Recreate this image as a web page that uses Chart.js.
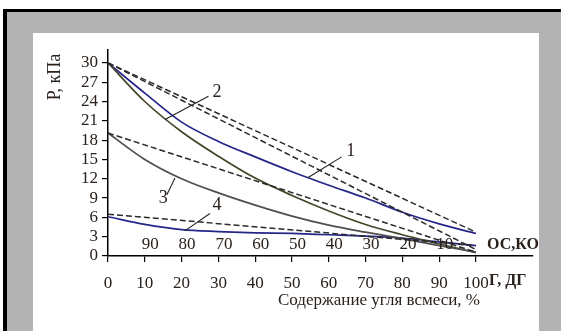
<!DOCTYPE html>
<html>
<head>
<meta charset="utf-8">
<script src="https://cdn.jsdelivr.net/npm/chart.js@4.4.1/dist/chart.umd.min.js"></script>
<style>
  html, body { margin: 0; padding: 0; background: #fff; }
  #frame { position: absolute; left: 3px; top: 9px; width: 558px; height: 322px; box-sizing: border-box;
           border-top: 3px solid #000; border-left: 4px solid #000; background: #b3b3b3; }
  #panel { position: absolute; left: 33px; top: 33px; width: 506px; height: 298px; background: #fff; }
  #wrap { position: absolute; left: 0; top: 0; width: 561px; height: 331px; }
</style>
</head>
<body>
<div id="frame"></div>
<div id="panel"></div>
<div id="wrap"><canvas id="c" width="561" height="331"></canvas></div>
<script>
// Coal content in the blend, %
const coalContent = [0, 10, 20, 30, 40, 50, 60, 70, 80, 90, 100];

// Measured pressure, kPa
const curve1 = [30, 25.3, 20.8, 17.8, 15.4, 13.1, 11.0, 9.0, 6.8, 5.0, 3.5];
const curve2 = [30, 24.0, 19.3, 15.5, 12.1, 9.4, 7.0, 4.9, 3.3, 1.9, 0.5];
const curve3 = [19.1, 15.0, 12.0, 9.8, 7.9, 6.2, 4.8, 3.7, 2.7, 1.6, 0.6];
const curve4 = [6.1, 4.9, 4.1, 3.8, 3.6, 3.5, 3.3, 3.1, 2.8, 2.2, 1.6];

// Additive (straight-line) values between the pure components, at 0 and 100 %
const additiveEnds = [0, 100];
const additive1 = [30, 3.7];
const additive2 = [30, 1.0];
const additive3 = [19.1, 0.6];
const additive4 = [6.5, 1.6];

// Axis ticks
const yTickValues = [0, 3, 6, 9, 12, 15, 18, 21, 24, 27, 30];
const xTickValues = [0, 10, 20, 30, 40, 50, 60, 70, 80, 90, 100];
// Second component share (ОС, КО), reversed along the axis
const secondShare = [90, 80, 70, 60, 50, 40, 30, 20, 10];

// Curve numbers: label position and leader line (curve point -> label)
const curveNames = ['1', '2', '3', '4'];
const namePos = [[66.0, 16.3], [29.6, 25.4], [15.0, 9.0], [29.6, 7.9]];
const leaderFrom = [[54.4, 12.2], [15.5, 21.2], [18.2, 12.1], [20.9, 3.9]];
const leaderTo = [[63.5, 15.4], [27.3, 24.8], [16.0, 9.5], [27.7, 6.6]];

const TEXT = '#2a211c';
const SERIF = '"Liberation Serif", "Times New Roman", serif';

function pts(xs, ys) { return xs.map((x, i) => ({ x: x, y: ys[i] })); }

const solid = (data, color) => ({
  data: data, borderColor: color, borderWidth: 1.7, pointRadius: 0,
  cubicInterpolationMode: 'monotone', fill: false
});
const dashed = (data) => ({
  data: data, borderColor: '#2a2a2a', borderWidth: 1.5, borderDash: [6, 3],
  pointRadius: 0, fill: false, tension: 0
});

const annotations = {
  id: 'annotations',
  afterDatasetsDraw(chart) {
    const ctx = chart.ctx, xs = chart.scales.x, ys = chart.scales.y;
    const X = v => xs.getPixelForValue(v), Y = v => ys.getPixelForValue(v);
    ctx.save();
    // leader lines
    ctx.strokeStyle = '#222';
    ctx.lineWidth = 1.1;
    leaderFrom.forEach((p, i) => {
      ctx.beginPath();
      ctx.moveTo(X(p[0]), Y(p[1]));
      ctx.lineTo(X(leaderTo[i][0]), Y(leaderTo[i][1]));
      ctx.stroke();
    });
    ctx.fillStyle = TEXT;
    ctx.textAlign = 'center';
    ctx.textBaseline = 'middle';
    ctx.font = '18px ' + SERIF;
    curveNames.forEach((t, i) => ctx.fillText(t, X(namePos[i][0]), Y(namePos[i][1])));

    // reversed share of the second component
    ctx.font = '17px ' + SERIF;
    secondShare.forEach(v => ctx.fillText(String(v), X(100 - v + 1.5), Y(1.8)));

    ctx.font = 'bold 16px ' + SERIF;
    ctx.textAlign = 'left';
    ctx.fillText('ОС,КО', X(103), Y(1.7));
    ctx.fillText('Г, ДГ', X(100) + 13, chart.chartArea.bottom + 25);

    ctx.font = '17px ' + SERIF;
    ctx.textAlign = 'right';
    ctx.fillText('Содержание угля всмеси, %', X(100) + 4, chart.chartArea.bottom + 45);

    ctx.translate(55, 77);
    ctx.rotate(-Math.PI / 2);
    ctx.textAlign = 'center';
    ctx.font = '18px ' + SERIF;
    ctx.fillText('Р, кПа', 0, 0);
    ctx.restore();
  }
};

new Chart(document.getElementById('c'), {
  type: 'line',
  data: {
    datasets: [
      dashed(pts(additiveEnds, additive1)),
      dashed(pts(additiveEnds, additive2)),
      dashed(pts(additiveEnds, additive3)),
      dashed(pts(additiveEnds, additive4)),
      solid(pts(coalContent, curve3), '#4f4f4f'),
      solid(pts(coalContent, curve2), '#45452a'),
      solid(pts(coalContent, curve4), '#26268a'),
      solid(pts(coalContent, curve1), '#26268a')
    ]
  },
  options: {
    responsive: false,
    animation: false,
    events: [],
    layout: { padding: { left: 58, top: 50, right: 28, bottom: 35 } },
    plugins: { legend: { display: false }, tooltip: { enabled: false } },
    scales: {
      x: {
        type: 'linear', min: 0, max: 115.5,
        afterBuildTicks: s => { s.ticks = xTickValues.map(v => ({ value: v })); },
        afterFit: s => { s.height = 40; },
        grid: { drawOnChartArea: false, drawTicks: true, tickLength: 6, color: '#000', lineWidth: 1.2 },
        border: { display: true, color: '#000', width: 1.5 },
        ticks: { color: TEXT, font: { family: SERIF, size: 17 }, padding: 11, maxRotation: 0, autoSkip: false }
      },
      y: {
        type: 'linear', min: 0, max: 32,
        afterBuildTicks: s => { s.ticks = yTickValues.map(v => ({ value: v })); },
        afterFit: s => { s.width = 50; },
        grid: { drawOnChartArea: false, drawTicks: true, tickLength: 6, color: '#000', lineWidth: 1.2 },
        border: { display: true, color: '#000', width: 1.5 },
        ticks: { color: TEXT, font: { family: SERIF, size: 17 }, padding: 4, autoSkip: false }
      }
    }
  },
  plugins: [annotations]
});
</script>
</body>
</html>
